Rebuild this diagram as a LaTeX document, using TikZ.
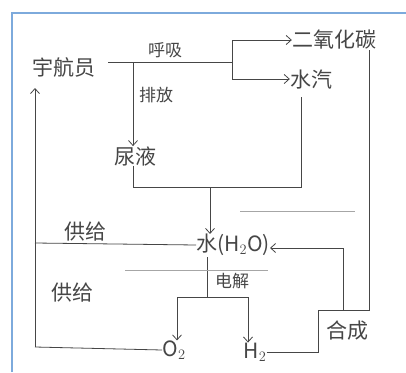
\documentclass[tikz,border=0pt]{standalone}
\usepackage{fontspec}
\newfontfamily\cjk{Noto Sans CJK SC}
\usetikzlibrary{arrows.meta}
\definecolor{ink}{RGB}{70,70,70}
\definecolor{frameblue}{RGB}{125,170,220}
\begin{document}
\begin{tikzpicture}[x=1pt,y=-1pt,
  lbl/.style={font=\cjk\fontsize{21}{21}\selectfont,text=ink,inner sep=0pt},
  small/.style={font=\cjk\fontsize{17}{17}\selectfont,text=ink,inner sep=0pt},
  wire/.style={draw=ink,line width=0.8pt},
  arr/.style={wire,-{Straight Barb[length=5pt,width=9pt]}},
  stray/.style={draw=gray!70,line width=0.6pt}]
\useasboundingbox (0,0) rectangle (406,372);
\fill[white] (0,0) rectangle (406,372);
\draw[frameblue,line width=1.8pt] (12,372) -- (12,13) -- (406,13);
% nodes
\node[lbl] (astro) at (64,67) {宇航员};
\node[lbl] (co2) at (334,40) {二氧化碳};
\node[lbl] (vapor) at (311,80) {水汽};
\node[lbl] (urine) at (135,156) {尿液};
\node[lbl,anchor=west] (water) at (196,245) {水(H$_2$O)};
\node[lbl] (o2) at (174,350) {O$_2$};
\node[lbl] (h2) at (255,352) {H$_2$};
\node[lbl] (syn) at (347,331) {合成};
\node[small] (breath) at (165,50) {呼吸};
\node[small] (emit) at (156,95) {排放};
\node[small] (elec) at (232,281) {电解};
\node[lbl] (sup1) at (85,232) {供给};
\node[lbl] (sup2) at (72,293) {供给};
% coordinates
\coordinate (a1) at (108,62);
\coordinate (br) at (232,62);
\coordinate (brT) at (232,40);
\coordinate (brB) at (232,79);
\coordinate (d0) at (133,62);
\coordinate (u1) at (133,187);
\coordinate (v1) at (301,187);
\coordinate (v0) at (301,97);
\coordinate (m0) at (210,187);
\coordinate (lt) at (35,88);
\coordinate (lm) at (35,243);
\coordinate (lb) at (35,347);
\coordinate (e0) at (207,257);
\coordinate (e1) at (207,297);
\coordinate (eL) at (177,297);
\coordinate (eR) at (248,297);
\coordinate (s1) at (318,352);
\coordinate (s2) at (318,310);
\coordinate (s3) at (369,310);
\coordinate (c0) at (369,50);
\coordinate (w1) at (343,310);
\coordinate (w2) at (343,248);
% connectors
\draw[wire] (a1) -- (br);
\draw[wire] (brT) -- (brB);
\draw[arr] (brT) -- (co2.west);
\draw[arr] (brB) -- (brB -| vapor.west);
\draw[arr] (d0) -- (urine.north -| d0);
\draw[wire] (urine.south -| u1) -- (u1) -- (v1) -- (v0);
\draw[arr] (m0) -- (m0 |- water.north);
\draw[wire] (water.west) -- (lm);
\draw[arr] (lb) -- (lt);
\draw[wire] (lb) -- (o2.west);
\draw[wire] (e0) -- (e1);
\draw[wire] (eL) -- (eR);
\draw[arr] (eL) -- (eL |- o2.north);
\draw[arr] (eR) -- (eR |- h2.north);
\draw[wire] (h2.east) -- (s1) -- (s2) -- (s3) -- (c0);
\draw[arr] (w1) -- (w2) -- (water.east |- w2);
% faint stray lines
\draw[stray] (240,211) -- (355,211);
\draw[stray] (125,270) -- (268,270);
\end{tikzpicture}
\end{document}
